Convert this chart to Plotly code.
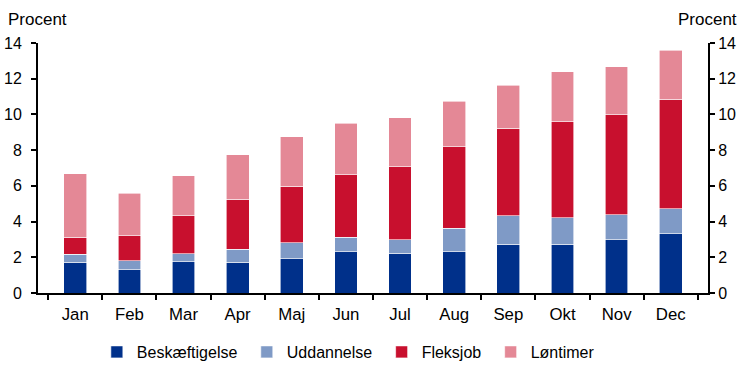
import plotly.graph_objects as go

months = ["Jan", "Feb", "Mar", "Apr", "Maj", "Jun", "Jul", "Aug", "Sep", "Okt", "Nov", "Dec"]
beskaeftigelse = [1.72, 1.31, 1.75, 1.72, 1.92, 2.31, 2.22, 2.31, 2.73, 2.73, 2.99, 3.32]
uddannelse = [0.45, 0.50, 0.45, 0.74, 0.90, 0.81, 0.75, 1.31, 1.60, 1.49, 1.40, 1.40]
fleksjob = [0.95, 1.40, 2.13, 2.80, 3.15, 3.51, 4.10, 4.57, 4.89, 5.36, 5.60, 6.13]
loentimer = [3.56, 2.37, 2.24, 2.47, 2.77, 2.89, 2.75, 2.54, 2.41, 2.81, 2.68, 2.74]
yticks = [0, 2, 4, 6, 8, 10, 12, 14]

pad = "\u00a0"
series = [
    ("Beskæftigelse", beskaeftigelse, "#00308a", pad),
    ("Uddannelse", uddannelse, "#7f9ac6", pad),
    ("Fleksjob", fleksjob, "#c8102e", pad),
    ("Løntimer", loentimer, "#e48896", ""),
]

fig = go.Figure()
for name, vals, col, tail in series:
    fig.add_trace(go.Bar(x=months, y=vals, name=name + tail, marker_color=col,
                         marker_line=dict(color="white", width=0.6), width=0.42))

fig.add_trace(go.Scatter(x=months, y=[None] * len(months), yaxis="y2",
                         showlegend=False, hoverinfo="skip"))

fam = "Liberation Sans, Arial, sans-serif"
font = dict(family=fam, size=16, color="black")
xfont = dict(family=fam, size=16.8, color="black")
tfont = dict(family=fam, size=17, color="black")
axis_common = dict(range=[0, 14], tickvals=yticks, showgrid=False, zeroline=False,
                   showline=True, linecolor="black", linewidth=2,
                   ticks="outside", ticklen=5, tickwidth=1.5, tickcolor="black",
                   tickfont=font, automargin=False)

fig.update_layout(
    barmode="stack",
    width=745, height=371,
    margin=dict(l=38, r=37, t=43, b=78),
    paper_bgcolor="white", plot_bgcolor="white",
    font=font,
    bargap=0.58,
    xaxis=dict(showline=True, linecolor="black", linewidth=2, ticks="outside",
               tickson="boundaries", ticklen=5, tickwidth=1.5, tickcolor="black",
               tickfont=xfont, showgrid=False, automargin=False, ticklabelstandoff=5),
    yaxis=dict(**axis_common, side="left", ticklabelstandoff=6),
    yaxis2=dict(**axis_common, side="right", overlaying="y"),
    legend=dict(orientation="h", xref="container", yref="container",
                x=0.130, xanchor="left", y=0.0512, yanchor="middle",
                font=font, itemwidth=30, traceorder="normal"),
    annotations=[
        dict(text="Procent", x=0, xref="paper", xanchor="left", xshift=-32,
             y=1, yref="paper", yanchor="bottom", yshift=12, showarrow=False, font=tfont),
        dict(text="Procent", x=1, xref="paper", xanchor="right", xshift=31,
             y=1, yref="paper", yanchor="bottom", yshift=12, showarrow=False, font=tfont),
    ],
)

fig.write_html("out.html", config={"displayModeBar": False},
               post_script="document.body.style.margin='0';document.body.style.padding='0';")
